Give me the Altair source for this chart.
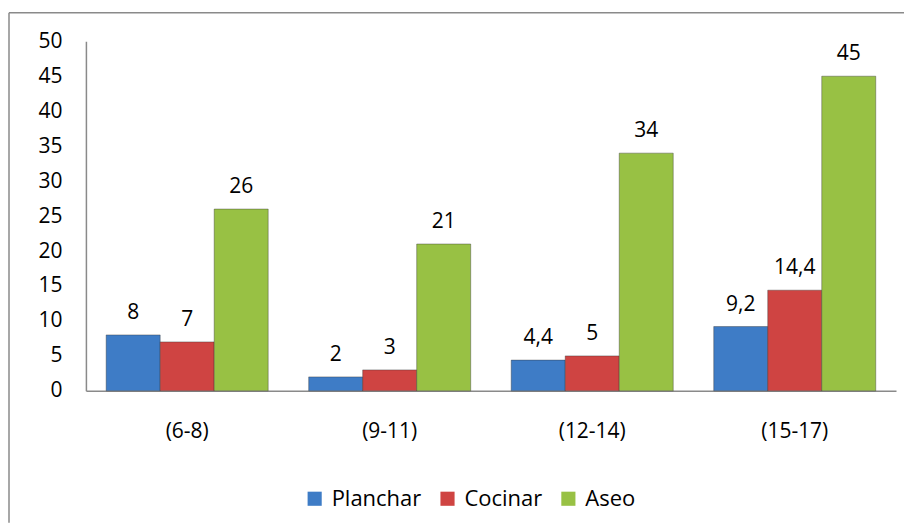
import altair as alt
import pandas as pd

categories = ["(6-8)", "(9-11)", "(12-14)", "(15-17)"]
series = ["Planchar", "Cocinar", "Aseo"]
planchar = [8, 2, 4.4, 9.2]
cocinar = [7, 3, 5, 14.4]
aseo = [26, 21, 34, 45]
colors = ["#3E7CC6", "#CF4442", "#98C144"]
y_ticks = list(range(0, 51, 5))


def fmt(v):
    s = str(int(v)) if float(v).is_integer() else str(v)
    return s.replace(".", ",")


rows = []
for name, vals in zip(series, [planchar, cocinar, aseo]):
    for c, v in zip(categories, vals):
        rows.append({"cat": c, "series": name, "value": v, "label": fmt(v)})
df = pd.DataFrame(rows)

FONT = "Open Sans"
FS = 21

base = alt.Chart(df).encode(
    x=alt.X(
        "cat:N",
        sort=categories,
        scale=alt.Scale(paddingInner=0.2, paddingOuter=0.1),
        axis=alt.Axis(
            title=None, labelAngle=0, ticks=False, labelPadding=30,
            labelFontSize=FS, labelColor="black", domainColor="#8A8A8A",
            domainWidth=1.5, grid=False,
        ),
    ),
    xOffset=alt.XOffset("series:N", sort=series,
                        scale=alt.Scale(paddingInner=0, paddingOuter=0)),
    y=alt.Y(
        "value:Q",
        scale=alt.Scale(domain=[0, 50], nice=False),
        axis=alt.Axis(
            title=None, values=y_ticks, ticks=False, labelPadding=24,
            labelFontSize=FS, labelColor="black", domainColor="#8A8A8A",
            domainWidth=1.5, grid=False,
        ),
    ),
)

bars = base.mark_bar(strokeWidth=0.8, strokeOpacity=0.5, stroke="#333333").encode(
    color=alt.Color(
        "series:N",
        sort=series,
        scale=alt.Scale(domain=series, range=colors),
        legend=alt.Legend(
            title=None, orient="none", direction="horizontal",
            legendX=218, legendY=447, symbolType="square", symbolSize=200,
            symbolStrokeWidth=0, labelFontSize=22, labelColor="black",
            columnPadding=15, labelOffset=6, symbolOpacity=1,
        ),
    )
)

labels = base.mark_text(baseline="alphabetic", dy=-16, fontSize=FS, color="black").encode(
    text="label:N"
)

one = alt.Chart(pd.DataFrame({"a": [0]}))
top_border = one.mark_rule(color="#8A8A8A", strokeWidth=1.5).encode(
    x=alt.value(-77), x2=alt.value(819), y=alt.value(-28.5)
)
left_border = one.mark_rule(color="#8A8A8A", strokeWidth=1.5).encode(
    x=alt.value(-77), y=alt.value(-28.5), y2=alt.value(482)
)

chart = (
    alt.layer(bars, labels, top_border, left_border)
    .properties(width=811, height=350, padding={"left": 0, "top": 3, "right": 0, "bottom": 0})
    .configure(font=FONT)
    .configure_view(stroke=None)
)

chart.save("out.html", embed_options={"renderer": "svg", "actions": False})
